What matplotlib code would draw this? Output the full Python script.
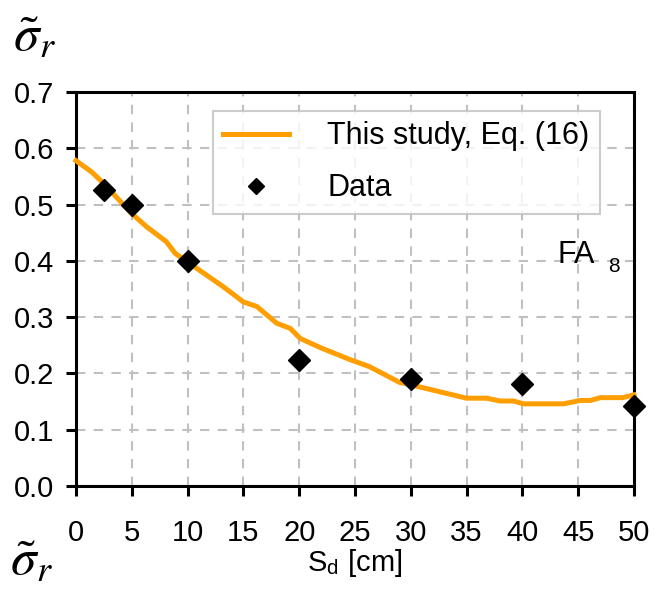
import matplotlib
matplotlib.use("Agg")
import matplotlib.pyplot as plt
from matplotlib.lines import Line2D

# Data
curve_x = [0, 1.4, 2.45, 5.0, 6.3, 8.1, 8.9, 10, 13.2, 15, 16.2, 18, 19.2, 20.1, 22,
           24.5, 26.3, 29, 30, 31, 35, 36.8, 38, 39.2, 40.1, 43.7, 45.2, 46.1, 47, 49, 50]
curve_y = [0.578, 0.558, 0.538, 0.484, 0.461, 0.434, 0.413, 0.398, 0.354, 0.327, 0.319,
           0.289, 0.280, 0.262, 0.245, 0.225, 0.212, 0.184, 0.180, 0.175, 0.156, 0.156,
           0.151, 0.151, 0.146, 0.146, 0.152, 0.152, 0.157, 0.157, 0.162]
data_x = [2.5, 5, 10, 20, 30, 40, 50]
data_y = [0.525, 0.499, 0.400, 0.224, 0.190, 0.182, 0.142]
xticks = [0, 5, 10, 15, 20, 25, 30, 35, 40, 45, 50]
yticks = [0.0, 0.1, 0.2, 0.3, 0.4, 0.5, 0.6, 0.7]

plt.rcParams['font.family'] = ['Liberation Sans', 'DejaVu Sans']
plt.rcParams['mathtext.fontset'] = 'stix'

fig = plt.figure(figsize=(6.54, 5.89), dpi=100)
ax = fig.add_axes([76/654, 103/589, 558/654, 394/589])

ax.plot(curve_x, curve_y, color='#FF9E00', lw=3.6, solid_joinstyle='round',
        label='This study, Eq. (16)', zorder=3, clip_on=False)
ax.plot(data_x, data_y, 'D', color='black', ms=11, label='Data', zorder=4, clip_on=False)

ax.set_xlim(0, 50)
ax.set_ylim(0, 0.7)
ax.set_xticks(xticks)
ax.set_yticks(yticks)
ax.set_yticklabels([f"{v:.1f}" for v in yticks])
ax.grid(True, color='#c0c0c0', lw=1.5, ls=(0, (4.5, 4)))
ax.set_axisbelow(True)
for s in ax.spines.values():
    s.set_linewidth(2.2)
    s.set_color('black')
ax.tick_params(axis='both', direction='out', length=7, width=2.2, labelsize=21)
ax.tick_params(axis='x', pad=17)
ax.tick_params(axis='y', pad=9)

ax.set_xlabel('S$_\\mathregular{d}$ [cm]', fontsize=21, labelpad=0)

handles = [Line2D([], [], color='#FF9E00', lw=3.6),
           Line2D([], [], ls='none', marker='D', color='black', ms=8)]
leg = ax.legend(handles, ['This study, Eq. (16)', 'Data'], loc='upper left',
                bbox_to_anchor=(0.245, 0.953),
                fontsize=22, frameon=True, fancybox=False, borderpad=0.35,
                handlelength=2.15, handletextpad=1.25, labelspacing=0.72,
                borderaxespad=0)
leg.get_frame().set_edgecolor('#c0c0c0')
leg.get_frame().set_linewidth(1.5)

ax.text(0.863, 0.565, 'FA', transform=ax.transAxes, fontsize=22, ha='left', va='baseline')
ax.text(0.954, 0.543, '8', transform=ax.transAxes, fontsize=15, ha='left', va='baseline')

fig.text(35/654, 1 - 38/589, r'$\tilde{\sigma}_{r}$', fontsize=37, ha='center', va='center')
fig.text(32/654, 1 - 562/589, r'$\tilde{\sigma}_{r}$', fontsize=37, ha='center', va='center')

fig.savefig('out.png', dpi=100)
